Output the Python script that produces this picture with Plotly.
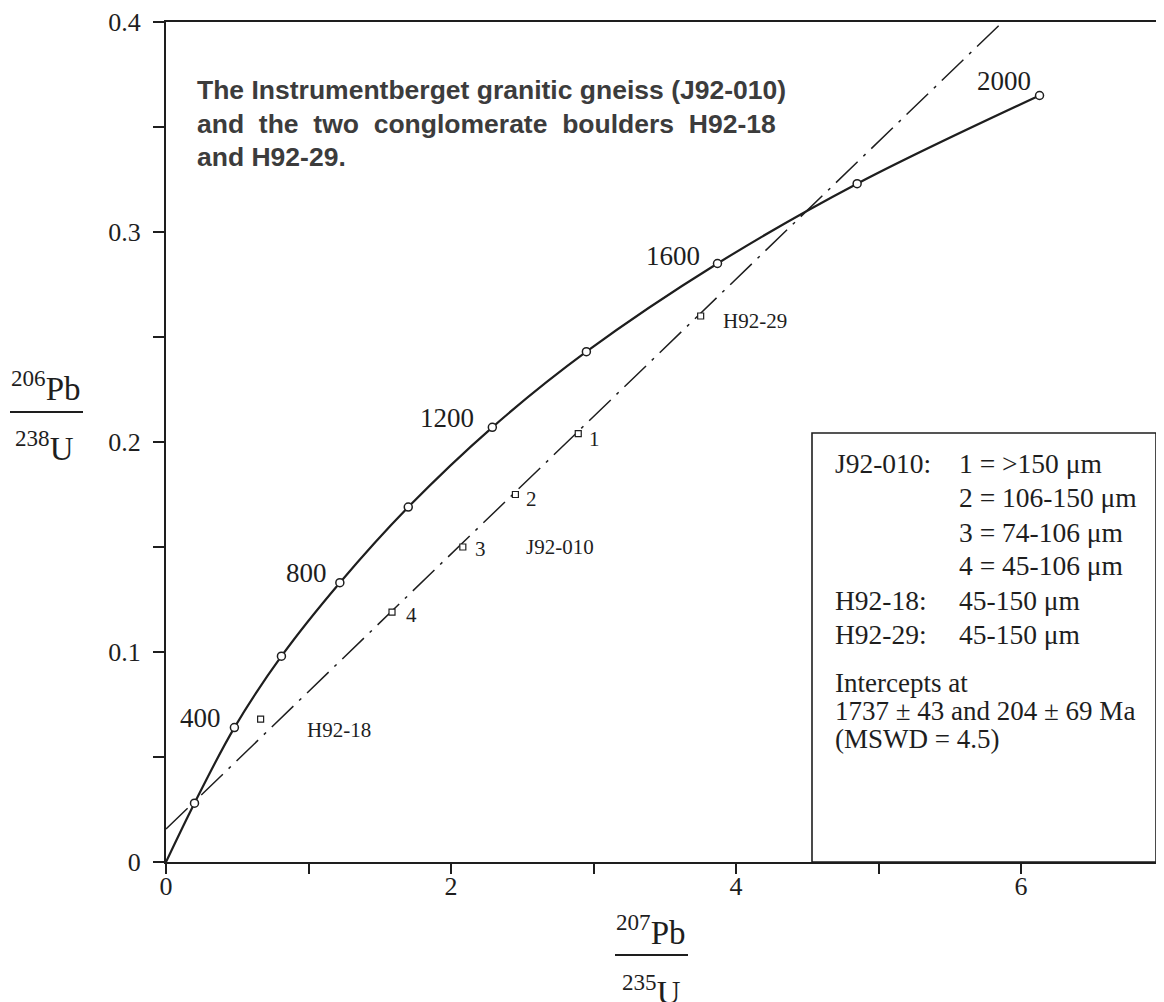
import plotly.graph_objects as go

# ---------------- data ----------------
# Concordia curve, ages in Ma with 207Pb/235U and 206Pb/238U ratios
conc_age = [0, 200, 400, 600, 800, 1000, 1200, 1400, 1600, 1800, 2000]
conc_x = [0.0, 0.20, 0.48, 0.81, 1.22, 1.70, 2.29, 2.95, 3.87, 4.85, 6.13]
conc_y = [0.0, 0.028, 0.064, 0.098, 0.133, 0.169, 0.207, 0.243, 0.285, 0.323, 0.365]
labelled_ages = ["400", "800", "1200", "1600", "2000"]

# Zircon fractions
sample_name = ["H92-18", "4", "3", "2", "1", "H92-29"]
sample_x = [0.664, 1.586, 2.083, 2.452, 2.893, 3.752]
sample_y = [0.068, 0.119, 0.150, 0.175, 0.204, 0.260]

# Discordia (regression line) end points
discordia_x = [0.0, 5.87]
discordia_y = [0.0157, 0.40]

# Axis ticks
x_tickvals = [0, 1, 2, 3, 4, 5, 6]
x_ticktext = ["0", "", "2", "", "4", "", "6"]
y_tickvals = [0, 0.05, 0.1, 0.15, 0.2, 0.25, 0.3, 0.35, 0.4]
y_ticktext = ["0", "", "0.1", "", "0.2", "", "0.3", "", "0.4"]

title_lines = [
    "The Instrumentberget granitic gneiss (J92-010)",
    "and\u00a0\u00a0the\u00a0\u00a0two\u00a0\u00a0conglomerate\u00a0\u00a0boulders\u00a0\u00a0H92-18",
    "and H92-29.",
]
legend_left = ["J92-010:", "", "", "", "H92-18:", "H92-29:"]
legend_right = ["1 = >150 \u03bcm", "2 = 106-150 \u03bcm", "3 = 74-106 \u03bcm",
                "4 = 45-106 \u03bcm", "45-150 \u03bcm", "45-150 \u03bcm"]
intercept_lines = ["Intercepts at", "1737 \u00b1 43 and 204 \u00b1 69 Ma", "(MSWD = 4.5)"]

# ---------------- figure ----------------
SERIF = "Liberation Serif"
SANS = "Liberation Sans"
INK = "#1e1e1e"

W, H = 1164, 1002
OFF = 8                       # page offset of the plot div (body margin)
P_L, P_R, P_T, P_B = 166, 1156, 22, 862   # wanted plot edges in page pixels
ML, MT = P_L - OFF, P_T - OFF
PW, PH = P_R - P_L, P_B - P_T
MR, MB = W - ML - PW, H - MT - PH


def px(xp):
    return (xp - P_L) / PW


def py(yp):
    return (P_B - yp) / PH


fig = go.Figure()

fig.add_trace(go.Scatter(
    x=discordia_x, y=discordia_y, mode="lines",
    line=dict(color=INK, width=1.5, dash="30px,8px,3px,8px"),
    hoverinfo="skip", showlegend=False))

fig.add_trace(go.Scatter(
    x=conc_x, y=conc_y, mode="lines",
    line=dict(color=INK, width=2.2, shape="spline", smoothing=1.0),
    hoverinfo="skip", showlegend=False))

fig.add_trace(go.Scatter(
    x=conc_x[1:], y=conc_y[1:], mode="markers",
    marker=dict(symbol="circle", size=8, color="white", line=dict(color=INK, width=1.5)),
    text=[str(a) for a in conc_age[1:]], showlegend=False))

fig.add_trace(go.Scatter(
    x=sample_x, y=sample_y, mode="markers",
    marker=dict(symbol="square", size=6, color="white", line=dict(color=INK, width=1.2)),
    text=sample_name, showlegend=False))

ann = []

# age labels next to concordia points
age_offsets = {"400": (-11, 10), "800": (-11, 10), "1200": (-16, 9),
               "1600": (-15, 8), "2000": (-7, 15)}
for lab in labelled_ages:
    i = conc_age.index(int(lab))
    dx, dy = age_offsets[lab]
    ann.append(dict(x=conc_x[i], y=conc_y[i], text=lab, showarrow=False,
                    xanchor="right", yanchor="middle", xshift=dx, yshift=dy,
                    font=dict(family=SERIF, size=27, color=INK)))

# sample labels
sample_offsets = {"H92-18": (44, -11), "4": (12, -3), "3": (10, -2),
                  "2": (9, -4), "1": (9, -5), "H92-29": (20, -5)}
for name, sx, sy in zip(sample_name, sample_x, sample_y):
    dx, dy = sample_offsets[name]
    ann.append(dict(x=sx, y=sy, text=name, showarrow=False,
                    xanchor="left", yanchor="middle", xshift=dx, yshift=dy,
                    font=dict(family=SERIF, size=21, color=INK)))
i3 = sample_name.index("3")
ann.append(dict(x=sample_x[i3], y=sample_y[i3], text="J92-010", showarrow=False,
                xanchor="left", yanchor="middle", xshift=61, yshift=0,
                font=dict(family=SERIF, size=21, color=INK)))

# title block
for k, line in enumerate(title_lines):
    ann.append(dict(xref="paper", yref="paper", x=px(195), y=py(90 + 33.5 * k),
                    text="<b>%s</b>" % line, showarrow=False,
                    xanchor="left", yanchor="middle",
                    font=dict(family=SANS, size=26.5, color="#3c3c3c")))

# legend box text
rows = [463, 497, 532, 566, 600, 634]
for yy, left, right in zip(rows, legend_left, legend_right):
    if left:
        ann.append(dict(xref="paper", yref="paper", x=px(833), y=py(yy), text=left,
                        showarrow=False, xanchor="left", yanchor="middle",
                        font=dict(family=SERIF, size=27.5, color=INK)))
    ann.append(dict(xref="paper", yref="paper", x=px(957), y=py(yy), text=right,
                    showarrow=False, xanchor="left", yanchor="middle",
                    font=dict(family=SERIF, size=27.5, color=INK)))
for yy, line in zip([683, 711, 739], intercept_lines):
    ann.append(dict(xref="paper", yref="paper", x=px(833), y=py(yy), text=line,
                    showarrow=False, xanchor="left", yanchor="middle",
                    font=dict(family=SERIF, size=27, color=INK)))

# axis titles as fractions
ann.append(dict(xref="paper", yref="paper", x=px(46), y=py(386),
                text="<sup>206</sup>Pb", showarrow=False, xanchor="center", yanchor="middle",
                font=dict(family=SERIF, size=33, color=INK)))
ann.append(dict(xref="paper", yref="paper", x=px(44), y=py(446),
                text="<sup>238</sup>U", showarrow=False, xanchor="center", yanchor="middle",
                font=dict(family=SERIF, size=33, color=INK)))
ann.append(dict(xref="paper", yref="paper", x=px(651), y=py(930),
                text="<sup>207</sup>Pb", showarrow=False, xanchor="center", yanchor="middle",
                font=dict(family=SERIF, size=33, color=INK)))
ann.append(dict(xref="paper", yref="paper", x=px(651), y=py(990),
                text="<sup>235</sup>U", showarrow=False, xanchor="center", yanchor="middle",
                font=dict(family=SERIF, size=33, color=INK)))

shapes = [
    dict(type="line", xref="paper", yref="paper", x0=px(10), x1=px(83), y0=py(412), y1=py(412),
         line=dict(color=INK, width=2)),
    dict(type="line", xref="paper", yref="paper", x0=px(615), x1=px(688), y0=py(955), y1=py(955),
         line=dict(color=INK, width=2)),
    dict(type="rect", xref="paper", yref="paper", x0=px(812), x1=1, y0=0, y1=py(433),
         line=dict(color=INK, width=1.6), fillcolor="rgba(0,0,0,0)"),
]

axis_common = dict(showgrid=False, zeroline=False, showline=True, linewidth=2,
                   linecolor=INK, mirror=True, ticks="outside", tickwidth=2,
                   tickcolor=INK, automargin=False,
                   tickfont=dict(family=SERIF, size=26, color=INK))

fig.update_layout(
    width=W, height=H,
    margin=dict(l=ML, r=MR, t=MT, b=MB, pad=0, autoexpand=False),
    paper_bgcolor="white", plot_bgcolor="white",
    xaxis=dict(range=[0, PW / 142.5], tickvals=x_tickvals, ticktext=x_ticktext,
               ticklen=10, ticklabelstandoff=-10, **axis_common),
    yaxis=dict(range=[0, 0.4], tickvals=y_tickvals, ticktext=y_ticktext,
               ticklen=11, ticklabelstandoff=7, **axis_common),
    annotations=ann, shapes=shapes, showlegend=False,
)

fig.write_html("out.html")
